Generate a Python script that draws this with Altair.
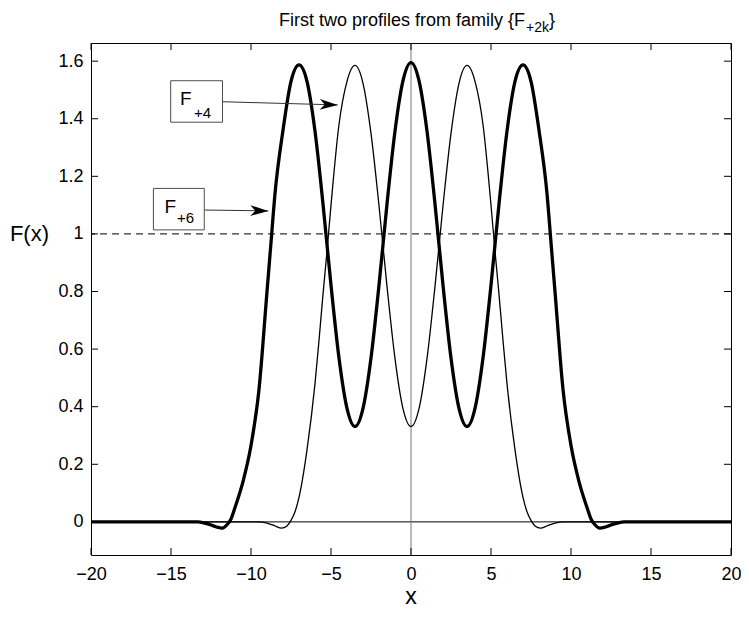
import altair as alt
import pandas as pd

# ---- data ----
thick_x = [-20, -18, -16, -14, -13.3, -12.7, -12.2, -11.8, -11.5, -11.25, -11, -10.5, -10, -9.5, -9,
           -8.75, -8.5, -8, -7.5, -7, -6.5, -6, -5.5, -5, -4.5, -4, -3.5, -3, -2.5, -2, -1.5, -1, -0.5,
           0, 0.5, 1, 1.5, 2, 2.5, 3, 3.5, 4, 4.5, 5, 5.5, 6, 6.5, 7, 7.5, 8, 8.5, 8.75, 9, 9.5, 10,
           10.5, 11, 11.25, 11.5, 11.8, 12.2, 12.7, 13.3, 14, 16, 18, 20]
thick_y = [0.0, 0.0, 0.0, 0.0, 0.0, -0.007, -0.017, -0.022, -0.01, 0.01, 0.05, 0.14, 0.265, 0.46, 0.80,
           0.97, 1.14, 1.36, 1.53, 1.587, 1.530, 1.357, 1.104, 0.822, 0.569, 0.394, 0.331, 0.394, 0.569,
           0.822, 1.104, 1.357, 1.532,
           1.595, 1.532, 1.357, 1.104, 0.822, 0.569, 0.394, 0.331, 0.394, 0.569, 0.822, 1.104, 1.357,
           1.530, 1.587, 1.53, 1.36, 1.14, 0.97, 0.80, 0.46, 0.265, 0.14, 0.05, 0.01, -0.01, -0.022,
           -0.017, -0.007, 0.0, 0.0, 0.0, 0.0, 0.0]

thin_x = [-20, -18, -16, -14, -12, -10, -9.6, -9, -8.5, -8.1, -7.75, -7.5, -7.25, -7, -6.5, -6, -5.75,
          -5.5, -5.25, -5, -4.5, -4, -3.5, -3, -2.5, -2, -1.5, -1, -0.5,
          0, 0.5, 1, 1.5, 2, 2.5, 3, 3.5, 4, 4.5, 5, 5.25, 5.5, 5.75, 6, 6.5, 7, 7.25, 7.5, 7.75,
          8.1, 8.5, 9, 9.6, 10, 12, 14, 16, 18, 20]
thin_y = [0.0, 0.0, 0.0, 0.0, 0.0, 0.0, 0.0, -0.004, -0.014, -0.022, -0.014, 0.005, 0.035, 0.085, 0.25,
          0.48, 0.63, 0.79, 0.94, 1.10, 1.38, 1.53, 1.585, 1.523, 1.349, 1.098, 0.818, 0.567, 0.393,
          0.331, 0.393, 0.567, 0.818, 1.098, 1.349, 1.523, 1.585, 1.53, 1.38, 1.10, 0.94, 0.79, 0.63,
          0.48, 0.25, 0.085, 0.035, 0.005, -0.014, -0.022, -0.014, -0.004, 0.0, 0.0, 0.0, 0.0, 0.0,
          0.0, 0.0]

x_ticks = [-20, -15, -10, -5, 0, 5, 10, 15, 20]
y_ticks = [0, 0.2, 0.4, 0.6, 0.8, 1.0, 1.2, 1.4, 1.6]
ref_level = [1.0]

# annotation boxes (data coordinates)
box_x = [-15.02, -16.10]
box_x2 = [-11.78, -12.92]
box_y = [1.532, 1.158]
box_y2 = [1.388, 1.014]
box_main = ["F", "F"]
box_sub = ["+4", "+6"]
lab_x = [-14.44, -15.40]
lab_y = [1.448, 1.073]
sub_x = [-13.57, -14.62]
sub_y = [1.403, 1.038]
arrow_x = [-11.78, -12.92]
arrow_y = [1.459, 1.083]
arrow_tx = [-4.58, -8.92]
arrow_ty = [1.448, 1.080]
arrow_angle = [1.6, 0.9]

# ---- layout / style ----
W, H = 640, 512
FONT = "Liberation Sans"
TICK = 7
xs = alt.Scale(domain=[-20, 20], nice=False, zero=False)
ys = alt.Scale(domain=[-0.115, 1.663], nice=False, zero=False)

xaxis = alt.Axis(values=x_ticks, ticks=False, domain=False, grid=False, labelFont=FONT,
                 labelFontSize=18, labelColor="black", labelPadding=10, labelFlush=False, title=None)
yaxis = alt.Axis(values=y_ticks, ticks=False, domain=False, grid=False, labelFont=FONT,
                 labelFontSize=18, labelColor="black", labelPadding=8, labelFlush=False,
                 format=".1~f", title=None)

thick_df = pd.DataFrame({"x": thick_x, "y": thick_y})
thin_df = pd.DataFrame({"x": thin_x, "y": thin_y})
X = alt.X("x:Q", scale=xs, axis=xaxis)
Y = alt.Y("y:Q", scale=ys, axis=yaxis)

thin_line = alt.Chart(thin_df).mark_line(color="black", strokeWidth=1.3,
                                          interpolate="monotone").encode(x=X, y=Y)
thick_line = alt.Chart(thick_df).mark_line(color="black", strokeWidth=3.3,
                                            interpolate="monotone").encode(x=X, y=Y)

zero_df = pd.DataFrame({"y": [0.0]})
zero_rule = alt.Chart(zero_df).mark_rule(color="black", strokeWidth=1).encode(y=Y)
vline_df = pd.DataFrame({"x": [0.0]})
v_rule = alt.Chart(vline_df).mark_rule(color="#777777", strokeWidth=1).encode(x=X)
dash_df = pd.DataFrame({"y": ref_level})
dash_rule = alt.Chart(dash_df).mark_rule(color="black", strokeWidth=1,
                                         strokeDash=[7, 5]).encode(y=Y)

# inward ticks
xt_df = pd.DataFrame({"x": x_ticks})
yt_df = pd.DataFrame({"y": y_ticks})
tick_b = alt.Chart(xt_df).mark_rule(color="black", strokeWidth=1).encode(
    x=X, y=alt.value(H), y2=alt.value(H - TICK))
tick_t = alt.Chart(xt_df).mark_rule(color="black", strokeWidth=1).encode(
    x=X, y=alt.value(0), y2=alt.value(TICK))
tick_l = alt.Chart(yt_df).mark_rule(color="black", strokeWidth=1).encode(
    y=Y, x=alt.value(0), x2=alt.value(TICK))
tick_r = alt.Chart(yt_df).mark_rule(color="black", strokeWidth=1).encode(
    y=Y, x=alt.value(W), x2=alt.value(W - TICK))

# annotations
ann = pd.DataFrame({"x": box_x, "x2": box_x2, "y": box_y, "y2": box_y2,
                    "main": box_main, "sub": box_sub, "lx": lab_x, "ly": lab_y,
                    "sx": sub_x, "sy": sub_y, "ax": arrow_x, "ay": arrow_y,
                    "tx": arrow_tx, "ty": arrow_ty, "ang": arrow_angle})
boxes = alt.Chart(ann).mark_rect(fill="white", stroke="#4d4d4d", strokeWidth=1).encode(
    x=X, x2="x2:Q", y=Y, y2="y2:Q")
labels = alt.Chart(ann).mark_text(font=FONT, fontSize=19, align="left", baseline="alphabetic",
                                   color="black").encode(
    x=alt.X("lx:Q", scale=xs, axis=xaxis), y=alt.Y("ly:Q", scale=ys, axis=yaxis), text="main:N")
subs = alt.Chart(ann).mark_text(font=FONT, fontSize=15, align="left", baseline="alphabetic",
                                 color="black").encode(
    x=alt.X("sx:Q", scale=xs, axis=xaxis), y=alt.Y("sy:Q", scale=ys, axis=yaxis), text="sub:N")
arrows = alt.Chart(ann).mark_rule(color="#333333", strokeWidth=1).encode(
    x=alt.X("ax:Q", scale=xs, axis=xaxis), y=alt.Y("ay:Q", scale=ys, axis=yaxis),
    x2="tx:Q", y2="ty:Q")
heads = alt.Chart(ann).mark_point(shape="M0,0 L-1,-0.3 L-0.72,0 L-1,0.3 Z", size=1296, filled=True,
                                  color="black", opacity=1, strokeWidth=0).encode(
    x=alt.X("tx:Q", scale=xs, axis=xaxis), y=alt.Y("ty:Q", scale=ys, axis=yaxis),
    angle=alt.Angle("ang:Q", scale=None))

# titles
t_df = pd.DataFrame({"a": ["First two profiles from family {F"], "b": ["+2k"], "c": ["}"]})
title_main = alt.Chart(t_df).mark_text(font=FONT, fontSize=18, align="right", baseline="alphabetic",
                                        color="black").encode(
    x=alt.value(434), y=alt.value(-17), text="a:N")
title_sub = alt.Chart(t_df).mark_text(font=FONT, fontSize=14, align="left", baseline="alphabetic",
                                       color="black").encode(
    x=alt.value(435), y=alt.value(-11), text="b:N")
title_end = alt.Chart(t_df).mark_text(font=FONT, fontSize=18, align="left", baseline="alphabetic",
                                       color="black").encode(
    x=alt.value(458), y=alt.value(-17), text="c:N")

xl_df = pd.DataFrame({"t": ["x"]})
x_title = alt.Chart(xl_df).mark_text(font=FONT, fontSize=23, align="center", baseline="alphabetic",
                                      color="black").encode(
    x=alt.value(W / 2), y=alt.value(H + 49), text="t:N")
yl_df = pd.DataFrame({"t": ["F(x)"], "y": ref_level})
y_title = alt.Chart(yl_df).mark_text(font=FONT, fontSize=22, align="right", baseline="middle",
                                      color="black").encode(
    x=alt.value(-42), y=Y, text="t:N")

chart = alt.layer(
    zero_rule, v_rule, dash_rule, thin_line, thick_line,
    arrows, boxes, labels, subs, heads,
    tick_b, tick_t, tick_l, tick_r,
    title_main, title_sub, title_end, x_title, y_title,
).properties(
    width=W, height=H,
    autosize=alt.AutoSizeParams(type="none"),
    padding={"left": 83, "top": 35, "right": 10, "bottom": 55},
    background="white",
).configure_view(stroke="black", strokeWidth=1)

chart.save("out.html", embed_options={"renderer": "svg", "actions": False})
